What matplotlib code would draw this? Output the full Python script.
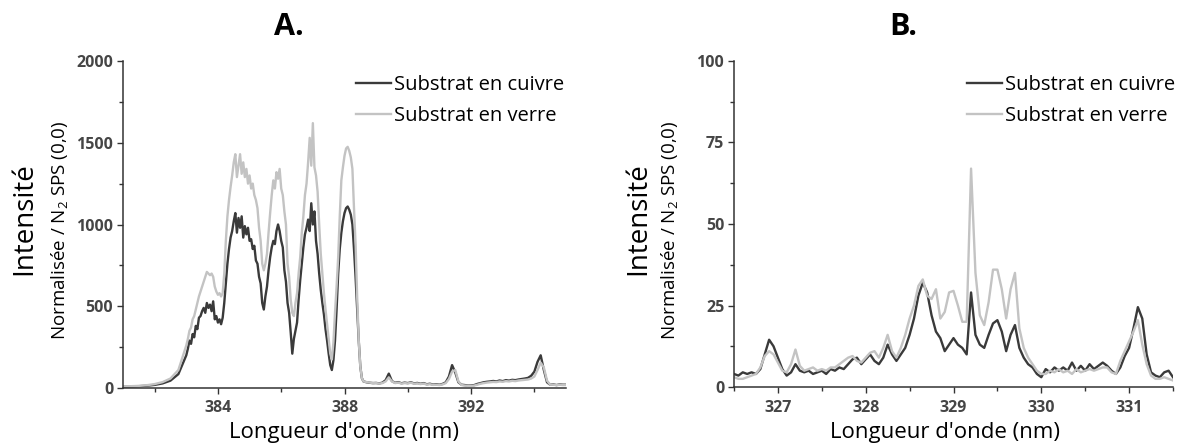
import matplotlib
matplotlib.use('Agg')
import matplotlib.pyplot as plt

plt.rcParams['font.family'] = ['Open Sans', 'DejaVu Sans']
plt.rcParams['mathtext.fontset'] = 'custom'
plt.rcParams['mathtext.rm'] = 'Open Sans'
plt.rcParams['mathtext.it'] = 'Open Sans:italic'
plt.rcParams['mathtext.bf'] = 'Open Sans:bold'

# ---------------- Panel A data (N2 FNS band, 381-395 nm) ----------------
wl_a = [381.0, 381.25, 381.5, 381.75, 382.0, 382.25, 382.5, 382.75,
        383.00, 383.05, 383.10, 383.15, 383.20, 383.25, 383.30, 383.35, 383.40, 383.45,
        383.50, 383.55, 383.60, 383.65, 383.70, 383.75, 383.80, 383.85, 383.90, 383.95,
        384.00, 384.05, 384.10, 384.15, 384.20, 384.25, 384.30, 384.35, 384.40, 384.45,
        384.50, 384.55, 384.60, 384.65, 384.70, 384.75, 384.80, 384.85, 384.90, 384.95,
        385.00, 385.05, 385.10, 385.15, 385.20, 385.25, 385.30, 385.35, 385.40, 385.45,
        385.50, 385.55, 385.60, 385.65, 385.70, 385.75, 385.80, 385.85, 385.90, 385.95,
        386.00, 386.05, 386.10, 386.15, 386.20, 386.25, 386.30, 386.35, 386.40, 386.45,
        386.50, 386.55, 386.60, 386.65, 386.70, 386.75, 386.80, 386.85, 386.90, 386.95,
        387.00, 387.05, 387.10, 387.15, 387.20, 387.25, 387.30, 387.35, 387.40, 387.45,
        387.50, 387.55, 387.60, 387.65, 387.70, 387.75, 387.80, 387.85, 387.90, 387.95,
        388.00, 388.05, 388.10, 388.15, 388.20, 388.25, 388.30, 388.35, 388.40, 388.45,
        388.50, 388.55, 388.60,
        388.7, 388.8, 388.9, 389.0, 389.1, 389.2, 389.3, 389.4, 389.5, 389.6,
        389.7, 389.8, 389.9, 390.0, 390.1, 390.2, 390.3, 390.4, 390.5, 390.6,
        390.7, 390.8, 390.9, 391.0, 391.1, 391.2, 391.3, 391.4, 391.5, 391.6,
        391.7, 391.8, 391.9, 392.0, 392.1, 392.2, 392.3, 392.4, 392.5, 392.6,
        392.7, 392.8, 392.9, 393.0, 393.1, 393.2, 393.3, 393.4, 393.5, 393.6,
        393.7, 393.8, 393.9, 394.0, 394.1, 394.2, 394.3, 394.4, 394.5, 394.6,
        394.7, 394.8, 394.9, 395.0]

cuivre_a = [8, 9, 11, 14, 19, 28, 45, 85,
            200, 240, 290, 270, 330, 310, 380, 360, 430, 440,
            470, 490, 460, 520, 490, 510, 470, 530, 420, 440,
            400, 420, 390, 430, 520, 640, 760, 850, 920, 960,
            1020, 1070, 950, 1040, 980, 1050, 920, 990, 940, 980,
            900, 910, 850, 870, 780, 760, 680, 640, 520, 480,
            560, 620, 720, 800, 860, 900, 880, 960, 1000, 960,
            900, 860, 720, 650, 520, 460, 340, 210, 300, 350,
            400, 540, 660, 760, 860, 940, 980, 1030, 960, 1130,
            1000, 1080, 900, 820, 700, 600, 520, 450, 360, 290,
            210, 140, 110, 170, 290, 480, 700, 850, 950, 1020,
            1070, 1100, 1110, 1090, 1060, 1000, 850, 680, 480, 290,
            130, 60, 40,
            35, 32, 30, 31, 28, 33, 48, 88, 42, 32,
            36, 29, 33, 30, 35, 28, 31, 26, 30, 23,
            26, 21, 23, 20, 25, 35, 70, 140, 95, 35,
            20, 18, 15, 15, 18, 25, 30, 35, 38, 40,
            43, 40, 46, 42, 48, 45, 50, 48, 52, 55,
            58, 62, 75, 100, 160, 200, 110, 35, 20, 22,
            18, 22, 20, 20]

verre_a = [10, 11, 13, 17, 24, 36, 58, 110,
           260, 300, 350, 370, 420, 440, 480, 520, 560, 590,
           620, 650, 680, 710, 700, 690, 700, 680, 620, 590,
           570, 580, 560, 580, 700, 900, 1050, 1150, 1230, 1300,
           1380, 1430, 1290, 1360, 1430, 1310, 1380, 1290, 1340, 1250,
           1300, 1220, 1250, 1180, 1150, 1100, 980, 900, 760, 720,
           760, 820, 950, 1070, 1180, 1270, 1220, 1320, 1280, 1340,
           1220, 1180, 1080, 1000, 760, 680, 540, 460, 440, 520,
           580, 700, 800, 950, 1050, 1180, 1250, 1380, 1530, 1360,
           1620, 1350, 1300, 1200, 1000, 820, 700, 580, 480, 390,
           300, 210, 175, 280, 460, 620, 800, 1050, 1270, 1350,
           1420, 1465, 1475, 1450, 1410, 1340, 1100, 880, 560, 290,
           130, 60, 40,
           36, 33, 30, 30, 27, 30, 40, 65, 40, 30,
           33, 27, 30, 28, 32, 26, 28, 24, 27, 21,
           23, 19, 20, 18, 22, 30, 55, 100, 110, 40,
           18, 15, 13, 12, 15, 20, 26, 30, 33, 35,
           37, 36, 40, 38, 42, 40, 44, 42, 46, 48,
           50, 52, 58, 70, 110, 155, 125, 45, 20, 20,
           17, 20, 18, 18]

# ---------------- Panel B data (N2 SPS region, 326.5-331.5 nm) ----------------
wl_b = [326.50, 326.55, 326.60, 326.65, 326.70, 326.75, 326.80, 326.85, 326.90, 326.95,
        327.00, 327.05, 327.10, 327.15, 327.20, 327.25, 327.30, 327.35, 327.40, 327.45,
        327.50, 327.55, 327.60, 327.65, 327.70, 327.75, 327.80, 327.85, 327.90, 327.95,
        328.00, 328.05, 328.10, 328.15, 328.20, 328.25, 328.30, 328.35, 328.40, 328.45,
        328.50, 328.55, 328.60, 328.65, 328.70, 328.75, 328.80, 328.85, 328.90, 328.95,
        329.00, 329.05, 329.10, 329.15, 329.20, 329.25, 329.30, 329.35, 329.40, 329.45,
        329.50, 329.55, 329.60, 329.65, 329.70, 329.75, 329.80, 329.85, 329.90, 329.95,
        330.00, 330.05, 330.10, 330.15, 330.20, 330.25, 330.30, 330.35, 330.40, 330.45,
        330.50, 330.55, 330.60, 330.65, 330.70, 330.75, 330.80, 330.85, 330.90, 330.95,
        331.00, 331.05, 331.10, 331.15, 331.20, 331.25, 331.30, 331.35, 331.40, 331.45,
        331.50]

cuivre_b = [4.0, 3.5, 4.5, 4.0, 4.5, 4.0, 5.5, 10.0, 14.5, 12.5,
            9.0, 5.5, 3.5, 4.5, 7.0, 5.0, 4.5, 5.0, 4.0, 4.5,
            5.0, 4.0, 5.5, 5.0, 6.0, 5.5, 7.0, 8.5, 9.0, 7.0,
            8.5, 10.0, 8.0, 7.0, 9.0, 13.0, 10.0, 8.0, 10.0, 12.0,
            16.0, 21.0, 28.0, 32.0, 29.0, 22.0, 17.0, 15.0, 11.0, 13.0,
            15.0, 13.0, 12.0, 10.0, 29.0, 16.0, 13.0, 12.0, 16.0, 19.5,
            20.5, 17.0, 11.0, 16.0, 19.0, 12.0, 9.0, 7.0, 6.0, 4.0,
            3.0, 5.5, 4.5, 6.0, 5.0, 6.0, 5.0, 7.5, 5.0, 6.5,
            5.0, 7.0, 5.5, 6.5, 7.5, 6.5, 5.0, 4.0, 6.0, 9.5,
            12.0, 18.0, 24.5, 21.0, 10.0, 4.5, 3.5, 3.0, 4.5, 5.0,
            3.0]

verre_b = [3.0, 2.5, 2.5, 3.0, 3.5, 4.0, 6.0, 9.5, 11.0, 10.0,
           7.5, 5.0, 4.5, 7.0, 11.5, 6.5, 5.0, 5.5, 6.0, 5.0,
           5.5, 5.0, 6.0, 6.0, 7.0, 8.0, 9.0, 9.5, 8.0, 7.5,
           9.0, 10.5, 11.0, 9.0, 12.0, 16.0, 11.0, 9.0, 12.0, 16.0,
           21.0, 25.0, 31.0, 33.0, 28.0, 27.0, 30.0, 21.0, 23.0, 29.0,
           29.5, 25.0, 20.0, 20.0, 67.0, 35.0, 22.0, 19.0, 26.0, 36.0,
           36.0, 30.0, 21.0, 30.0, 35.0, 18.0, 12.0, 9.0, 7.0, 5.0,
           4.0, 4.0, 5.0, 4.5, 5.5, 4.5, 5.0, 4.0, 5.5, 4.5,
           5.0, 5.5, 5.0, 5.5, 6.0, 6.0, 4.5, 4.0, 8.0, 11.0,
           14.0, 17.0, 20.5, 13.0, 7.0, 3.5, 2.5, 2.5, 3.0, 2.5,
           2.0]

series_labels = ['Substrat en cuivre', 'Substrat en verre']
panel_titles = ['A.', 'B.']
xlabel_text = "Longueur d'onde (nm)"
ylabel_main = 'Intensité'
ylabel_sub = r'Normalisée / N$_{2}$ SPS (0,0)'

xticks_a = [384, 388, 392]
xminor_a = [382, 386, 390, 394]
yticks_a = [0, 500, 1000, 1500, 2000]
yminor_a = [250, 750, 1250, 1750]
xticks_b = [327, 328, 329, 330, 331]
xminor_b = [326.5, 327.5, 328.5, 329.5, 330.5, 331.5]
yticks_b = [0, 25, 50, 75, 100]
yminor_b = [12.5, 37.5, 62.5, 87.5]

COL_CU = '#3a3a3a'
COL_VE = '#c3c3c3'
AXC = '#333333'
TICKC = '#454545'

W, H = 1177, 444
fig = plt.figure(figsize=(W / 100, H / 100), dpi=100)
axA = fig.add_axes([123 / W, 1 - 388 / H, 443 / W, 327 / H])
axB = fig.add_axes([734 / W, 1 - 387 / H, 439 / W, 326 / H])


def style(ax, xlim, ylim, xt, xm, yt, ym):
    ax.set_xlim(*xlim)
    ax.set_ylim(*ylim)
    for s in ['top', 'right']:
        ax.spines[s].set_visible(False)
    for s in ['left', 'bottom']:
        ax.spines[s].set_color(AXC)
        ax.spines[s].set_linewidth(1.1)
    ax.set_xticks(xt)
    ax.set_xticklabels([str(v) for v in xt], fontweight='bold', color=TICKC, fontsize=11.5)
    ax.set_yticks(yt)
    ax.set_yticklabels([str(v) for v in yt], fontweight='bold', color=TICKC, fontsize=11.5)
    ax.set_xticks(xm, minor=True)
    ax.set_yticks(ym, minor=True)
    ax.tick_params(axis='x', which='major', direction='out', length=4, width=1.0,
                   color=AXC, pad=5)
    ax.tick_params(axis='y', which='major', direction='out', length=4, width=1.0,
                   color=AXC, pad=3)
    ax.tick_params(which='minor', direction='out', length=3, width=1.0, color=AXC)


for ax, wl, cu, ve in [(axA, wl_a, cuivre_a, verre_a), (axB, wl_b, cuivre_b, verre_b)]:
    ax.plot(wl, cu, color=COL_CU, lw=1.7, label=series_labels[0], solid_joinstyle='round')
    ax.plot(wl, ve, color=COL_VE, lw=1.7, label=series_labels[1], solid_joinstyle='round')

style(axA, (381, 395), (0, 2000), xticks_a, xminor_a, yticks_a, yminor_a)
style(axB, (326.5, 331.5), (0, 100), xticks_b, xminor_b, yticks_b, yminor_b)

for ax, lx in [(axA, 356), (axB, 967)]:
    ax.legend(loc='upper left', bbox_to_anchor=(lx / W, 1 - 75 / H),
              bbox_transform=fig.transFigure, frameon=False, fontsize=14.5,
              handlelength=1.75, handletextpad=0.12, borderpad=0,
              borderaxespad=0, labelspacing=0.55)

# titles
fig.text(289 / W, 1 - 27 / H, panel_titles[0], ha='center', va='center',
         fontsize=22, fontweight='bold')
fig.text(903 / W, 1 - 27 / H, panel_titles[1], ha='center', va='center',
         fontsize=22, fontweight='bold')

# y labels
for xm, xs in [(24, 59), (638, 670)]:
    fig.text(xm / W, 1 - 219 / H, ylabel_main, rotation=90, ha='center', va='center',
             fontsize=20)
    fig.text(xs / W, 1 - 230 / H, ylabel_sub, rotation=90, ha='center', va='center',
             fontsize=13.5)

# x labels
for xc in [344, 945]:
    fig.text(xc / W, 1 - 432 / H, xlabel_text, ha='center', va='center', fontsize=16)

fig.savefig('out.png', dpi=100)
